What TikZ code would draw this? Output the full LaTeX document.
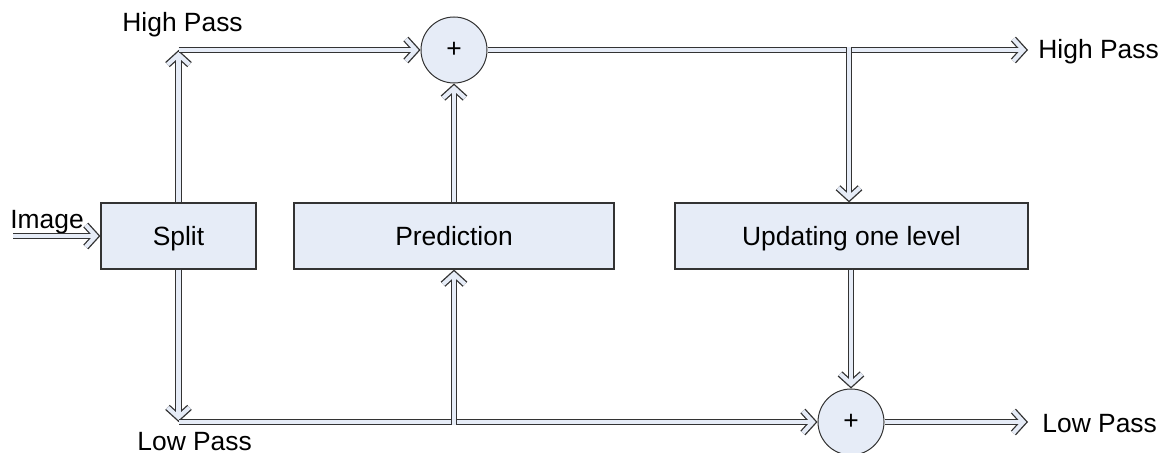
\documentclass[tikz,border=0pt]{standalone}
\usepackage{fontspec}
\setmainfont{Liberation Sans}
\usetikzlibrary{arrows.meta}
\definecolor{boxfill}{HTML}{E6ECF7}
\definecolor{edge}{HTML}{333333}
\begin{document}
\begin{tikzpicture}[x=0.5pt,y=-0.5pt,
  every node/.style={font=\fontsize{13.2pt}{16pt}\selectfont},
  blk/.style={draw=edge, line width=0.6pt, fill=boxfill, minimum height=33pt, inner sep=0pt, text height=9.2pt, text depth=0pt},
  sum/.style={circle, draw=edge, line width=0.5pt, fill=boxfill, minimum size=33pt, inner sep=0pt},
  arr/.style={draw=edge, line width=3.4pt, -{Straight Barb[length=5pt,width=11pt,sharp]},
    postaction={draw=boxfill, line width=2.1pt, shorten >=0.9pt, -{Straight Barb[length=5pt,width=11pt,sharp]}}},
  lbl/.style={inner sep=0pt, anchor=base west}]
\useasboundingbox (0,0) rectangle (1170,453);
\node[blk, minimum width=77.5pt] (split) at (178.5,236) {Split};
\node[blk, minimum width=160pt] (pred) at (454,236) {Prediction};
\node[blk, minimum width=176.5pt] (upd) at (851.5,236) {Updating one level};
\node[sum] (s1) at (454,50) {+};
\node[sum] (s2) at (851,422) {+};
\coordinate (tl) at (178.5,50);
\coordinate (bl) at (178.5,422);
\coordinate (br) at (849,50);
\coordinate (hpout) at (1028,50);
\coordinate (lpout) at (1028,422);
\coordinate (imgin) at (13,236);
% labels
\node[lbl] (hptop) at (122,32) {High Pass};
\node[lbl] (lpbot) at (137,450) {Low Pass};
\node[lbl] (hpr) at (1038,59) {High Pass};
\node[lbl] (lpr) at (1042,432) {Low Pass};
\node[lbl] (img) at (10,229) {Image};
% connectors
\draw[arr] (imgin) -- (split.west);
\draw[arr] (split.north) -- (tl);
\draw[arr] (tl) -- (s1.west);
\draw[arr] (split.south) -- (bl);
\draw[arr] (bl) -- (s2.west);
\draw[arr] (s1.east) -- (hpout);
\draw[arr] (s2.east) -- (lpout);
\draw[arr] (pred.north) -- (s1.south);
\draw[arr] ([yshift=-1.6pt]bl -| pred.south) -- (pred.south);
\draw[arr] ([yshift=1.6pt]br) -- (br |- upd.north);
\draw[arr] (upd.south -| s2.north) -- (s2.north);
\end{tikzpicture}
\end{document}
